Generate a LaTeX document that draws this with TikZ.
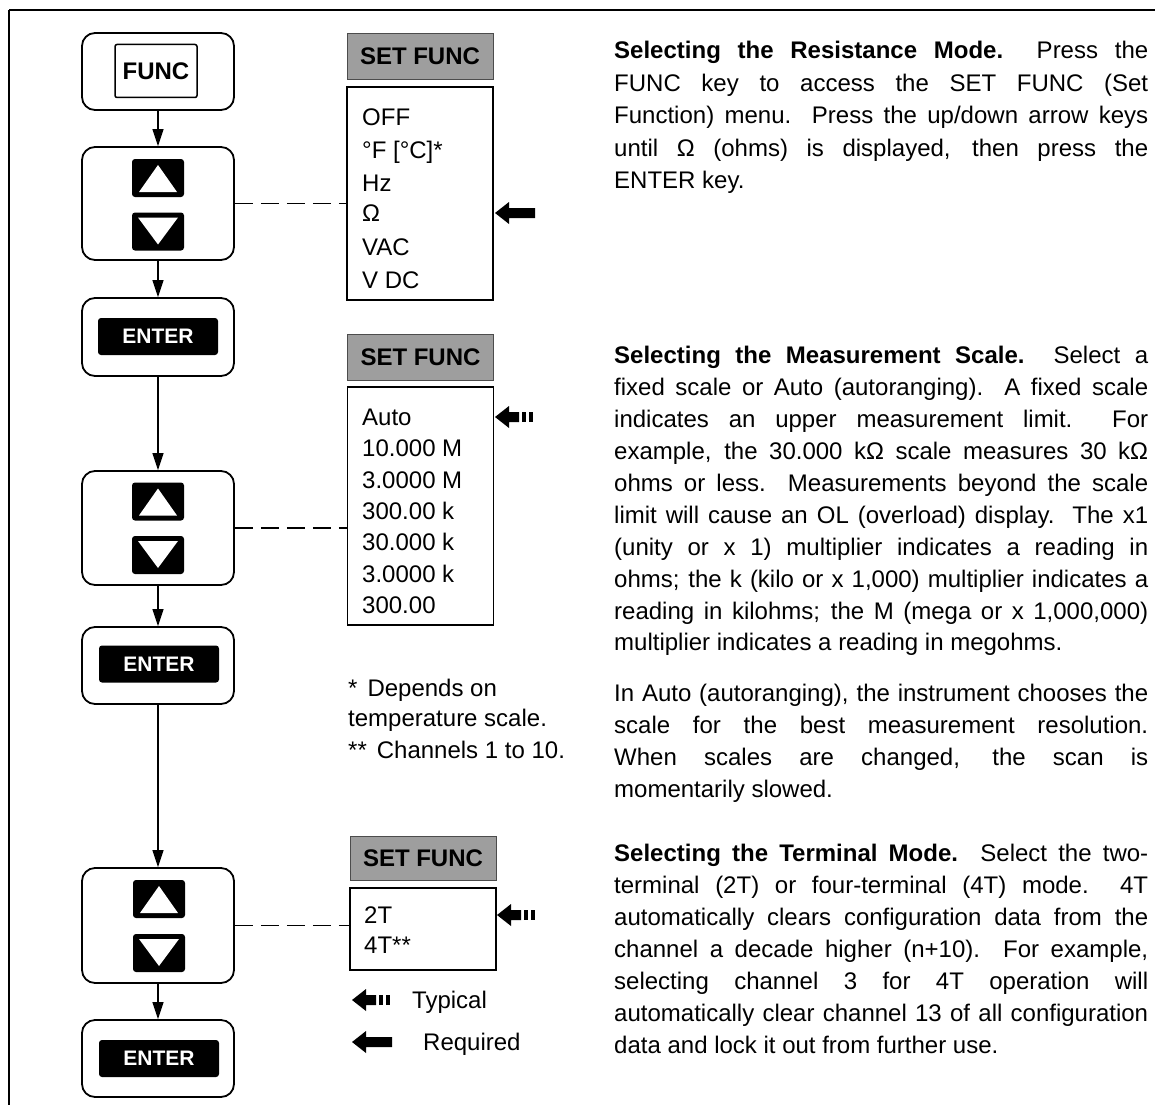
\documentclass[tikz,border=0pt]{standalone}
\usepackage{fontspec}
\setmainfont{Liberation Sans}
\usetikzlibrary{arrows.meta}
\newcommand{\bfnt}{\fontsize{24pt}{32pt}\selectfont}
\newcommand{\efnt}{\fontsize{21pt}{24pt}\selectfont\bfseries}
\newcommand{\jl}[1]{\hbox to 534pt{#1}}
\newcommand{\nl}[1]{\hbox{#1}}
\newcommand{\upkey}[3]{%
  \node[keyb, minimum width=52pt, minimum height=38pt] (#1) at (#2,#3) {};
  \fill[white] (#2-19,#3+14) -- (#2+19,#3+14) -- (#2,#3-13) -- cycle;}
\newcommand{\downkey}[3]{%
  \node[keyb, minimum width=52pt, minimum height=38pt] (#1) at (#2,#3) {};
  \fill[white] (#2-20,#3-14) -- (#2+20,#3-14) -- (#2,#3+13) -- cycle;}
\newcommand{\reqarr}[2]{%
  \fill (#1,#2) -- (#1+14,#2-11) -- (#1+14,#2-5) -- (#1+40,#2-5) -- (#1+40,#2+5) -- (#1+14,#2+5) -- (#1+14,#2+11) -- cycle;}
\newcommand{\typarr}[2]{%
  \fill (#1,#2) -- (#1+14,#2-11) -- (#1+14,#2-5) -- (#1+24,#2-5) -- (#1+24,#2+5) -- (#1+14,#2+5) -- (#1+14,#2+11) -- cycle;
  \fill (#1+27,#2-5) rectangle (#1+31,#2+5);
  \fill (#1+34,#2-5) rectangle (#1+38,#2+5);}
\tikzset{
  outerbox/.style={draw, line width=1.8pt, rounded corners=13pt, minimum width=152pt, inner sep=0pt},
  keyb/.style={fill=black, rounded corners=3pt, inner sep=0pt},
  arr/.style={line width=1.3pt, -{Triangle[width=11pt,length=17pt]}},
  dsh/.style={line width=1.8pt, dash pattern=on 18pt off 8pt},
  menubox/.style={draw, line width=1.4pt, inner sep=0pt, minimum width=146pt},
  header/.style={fill=black!38, draw=black!70, line width=1pt, inner sep=0pt, minimum width=146pt, minimum height=46pt, font=\bfnt\bfseries},
  item/.style={anchor=base west, inner sep=0pt, font=\bfnt},
  entkey/.style={keyb, minimum width=120pt, minimum height=37pt, text=white, font=\efnt},
  para/.style={anchor=north west, inner sep=0pt, font=\bfnt},
}
\begin{document}
\begin{tikzpicture}[x=1pt,y=-1pt]
\useasboundingbox (0,0) rectangle (1155,1105);
\fill[white] (0,0) rectangle (1155,1105);
% frame
\draw[line width=2.5pt] (9,10) -- (1155,10);
\draw[line width=1.2pt] (9,10) -- (9,1105);

% left column
\node[outerbox, minimum height=77pt] (funcbox) at (158,71.5) {};
\node[draw, line width=1.5pt, rounded corners=2pt, minimum width=82pt, minimum height=53pt, inner sep=0pt, font=\bfnt\bfseries] (funckey) at (156,71) {FUNC};

\node[outerbox, minimum height=113pt] (ud1) at (158,203.5) {};
\upkey{up1}{158}{178}
\downkey{dn1}{158}{231.5}

\node[outerbox, minimum height=78pt] (ent1box) at (158,337) {};
\node[entkey] (ent1) at (158,336.5) {ENTER};

\node[outerbox, minimum height=114pt] (ud2) at (158,528) {};
\upkey{up2}{158}{501.5}
\downkey{dn2}{158}{555}

\node[outerbox, minimum height=77pt] (ent2box) at (158,665.5) {};
\node[entkey] (ent2) at (159,664) {ENTER};

\node[outerbox, minimum height=115pt] (ud3) at (158,925.5) {};
\upkey{up3}{159}{899}
\downkey{dn3}{159}{953}

\node[outerbox, minimum height=77pt] (ent3box) at (158,1058.5) {};
\node[entkey] (ent3) at (159,1058.5) {ENTER};

\draw[arr] (funcbox.south) -- (ud1.north);
\draw[arr] (ud1.south) -- (ent1box.north);
\draw[arr] (ent1box.south) -- (ud2.north);
\draw[arr] (ud2.south) -- (ent2box.north);
\draw[arr] (ent2box.south) -- (ud3.north);
\draw[arr] (ud3.south) -- (ent3box.north);

% menu 1
\node[header] (h1) at (420,56.5) {SET FUNC};
\node[menubox, minimum height=213pt] (menu1) at (420,193.5) {};
\node[item] (m1a) at (362,125.6) {OFF};
\node[item] (m1b) at (362,158.6) {°F [°C]*};
\node[item] (m1c) at (362,191.6) {Hz};
\node[item] (m1d) at (362,221.6) {Ω};
\node[item] (m1e) at (362,255.6) {VAC};
\node[item] (m1f) at (362,288.6) {V DC};
\reqarr{495}{213}
\draw[dsh] (ud1.east) -- (ud1.east -| menu1.west);

% menu 2
\node[header] (h2) at (420.5,357) {SET FUNC};
\node[menubox, minimum height=238pt] (menu2) at (420.5,506) {};
\node[item] (m2a) at (362,425.6) {Auto};
\node[item] (m2b) at (362,456.9) {10.000 M};
\node[item] (m2c) at (362,488.2) {3.0000 M};
\node[item] (m2d) at (362,519.5) {300.00 k};
\node[item] (m2e) at (362,550.8) {30.000 k};
\node[item] (m2f) at (362,582.1) {3.0000 k};
\node[item] (m2g) at (362,613.4) {300.00};
\typarr{495}{417}
\draw[dsh] (ud2.east) -- (ud2.east -| menu2.west);

% footnotes
\node[item] (fn1) at (348,696) {*\hspace{10pt}Depends on};
\node[item] (fn2) at (348,726) {temperature scale.};
\node[item] (fn3) at (348,758) {**\hspace{10pt}Channels 1 to 10.};

% menu 3
\node[header, minimum height=44pt] (h3) at (423,858) {SET FUNC};
\node[menubox, minimum height=82pt] (menu3) at (423,929) {};
\node[item] (m3a) at (364,923.6) {2T};
\node[item] (m3b) at (364,953.6) {4T**};
\typarr{497}{915}
\draw[dsh] (ud3.east) -- (ud3.east -| menu3.west);

% legend
\typarr{352}{1000}
\node[item] (lt) at (412,1008.6) {Typical};
\reqarr{352}{1042}
\node[item] (lr) at (423,1050.6) {Required};

% right column text
\node[para] (p1) at (614,38.6) {\vbox{\baselineskip=32.5pt
\jl{\rule{0pt}{20pt}\textbf{Selecting the Resistance Mode.}\ \ Press the}
\jl{FUNC key to access the SET FUNC (Set}
\jl{Function) menu.\ \ Press the up/down arrow keys}
\jl{until Ω (ohms) is displayed, then press the}
\nl{ENTER key.}}};

\node[para] (p2) at (614,343.6) {\vbox{\baselineskip=31.9pt
\jl{\rule{0pt}{20pt}\textbf{Selecting the Measurement Scale.}\ \ Select a}
\jl{fixed scale or Auto (autoranging).\ \ A fixed scale}
\jl{indicates an upper measurement limit.\ \ For}
\jl{example, the 30.000 kΩ scale measures 30 kΩ}
\jl{ohms or less.\ \ Measurements beyond the scale}
\jl{limit will cause an OL (overload) display.\ \ The x1}
\jl{(unity or x 1) multiplier indicates a reading in}
\jl{ohms; the k (kilo or x 1,000) multiplier indicates a}
\jl{reading in kilohms; the M (mega or x 1,000,000)}
\nl{multiplier indicates a reading in megohms.}}};

\node[para] (p3) at (614,681.6) {\vbox{\baselineskip=31.9pt
\jl{\rule{0pt}{20pt}In Auto (autoranging), the instrument chooses the}
\jl{scale for the best measurement resolution.}
\jl{When scales are changed, the scan is}
\nl{momentarily slowed.}}};

\node[para] (p4) at (614,841.6) {\vbox{\baselineskip=32pt
\jl{\rule{0pt}{20pt}\textbf{Selecting the Terminal Mode.}\ \ Select the two-}
\jl{terminal (2T) or four-terminal (4T) mode.\ \ 4T}
\jl{automatically clears configuration data from the}
\jl{channel a decade higher (n+10).\ \ For example,}
\jl{selecting channel 3 for 4T operation will}
\jl{automatically clear channel 13 of all configuration}
\nl{data and lock it out from further use.}}};
\end{tikzpicture}
\end{document}
